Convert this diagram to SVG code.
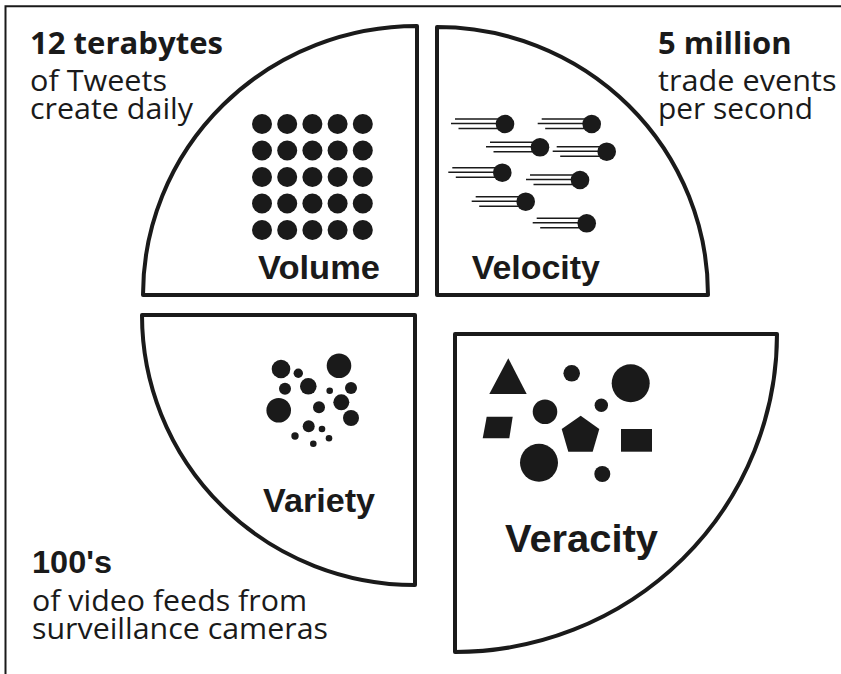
<svg xmlns="http://www.w3.org/2000/svg" xmlns:xlink="http://www.w3.org/1999/xlink" width="841" height="674" viewBox="0 0 841 674">
  <style>
    .frame { fill: none; stroke: #1a1a1a; stroke-width: 2; }
    .quad { fill: #ffffff; stroke: #1a1a1a; stroke-width: 4; stroke-linejoin: round; }
    .ink { fill: #1a1a1a; }
    .streak { stroke: #1a1a1a; stroke-width: 1.4; fill: none; }
    .label { font-family: "Liberation Sans", Arial, sans-serif; font-weight: bold; font-size: 33px; fill: #1a1a1a; }
    .head { font-family: "Open Sans", "Noto Sans", sans-serif; font-weight: bold; font-size: 30px; fill: #1a1a1a; }
    .head-arial { font-family: "Liberation Sans", Arial, sans-serif; font-weight: bold; font-size: 31px; fill: #1a1a1a; }
    .note { font-family: "Open Sans", "Noto Sans", sans-serif; font-size: 29px; fill: #1a1a1a; }
  </style>
  <defs>
    <!-- a ball with three speed streaks trailing to its left -->
    <g id="meteor">
      <path class="streak" d="M-50,-5 H0 M-54,-0.5 H0 M-46.5,4.5 H0"/>
      <circle class="ink" cx="0" cy="0" r="9.3"/>
    </g>
    <circle id="dot" class="ink" cx="0" cy="0" r="10"/>
  </defs>

  <rect width="841" height="674" fill="#ffffff"/>

  <!-- open frame: top and left edges only -->
  <path class="frame" d="M5.5,674 V6.2 H841"/>

  <!-- Volume -->
  <g id="volume">
    <path class="quad" d="M143,295 A274,269 0 0 1 417,26 L417,295 Z"/>
    <g>
      <use xlink:href="#dot" x="262" y="124"/><use xlink:href="#dot" x="287.2" y="124"/><use xlink:href="#dot" x="312.4" y="124"/><use xlink:href="#dot" x="337.6" y="124"/><use xlink:href="#dot" x="362.8" y="124"/>
      <use xlink:href="#dot" x="262" y="150.5"/><use xlink:href="#dot" x="287.2" y="150.5"/><use xlink:href="#dot" x="312.4" y="150.5"/><use xlink:href="#dot" x="337.6" y="150.5"/><use xlink:href="#dot" x="362.8" y="150.5"/>
      <use xlink:href="#dot" x="262" y="177"/><use xlink:href="#dot" x="287.2" y="177"/><use xlink:href="#dot" x="312.4" y="177"/><use xlink:href="#dot" x="337.6" y="177"/><use xlink:href="#dot" x="362.8" y="177"/>
      <use xlink:href="#dot" x="262" y="203.5"/><use xlink:href="#dot" x="287.2" y="203.5"/><use xlink:href="#dot" x="312.4" y="203.5"/><use xlink:href="#dot" x="337.6" y="203.5"/><use xlink:href="#dot" x="362.8" y="203.5"/>
      <use xlink:href="#dot" x="262" y="230"/><use xlink:href="#dot" x="287.2" y="230"/><use xlink:href="#dot" x="312.4" y="230"/><use xlink:href="#dot" x="337.6" y="230"/><use xlink:href="#dot" x="362.8" y="230"/>
    </g>
    <text class="label" x="258" y="279" textLength="122" lengthAdjust="spacingAndGlyphs">Volume</text>
  </g>

  <!-- Velocity -->
  <g id="velocity">
    <path class="quad" d="M437,295 L437,27 A271,268 0 0 1 708,295 Z"/>
    <use xlink:href="#meteor" x="505" y="124"/>
    <use xlink:href="#meteor" x="591.7" y="124"/>
    <use xlink:href="#meteor" x="540" y="147.3"/>
    <use xlink:href="#meteor" x="606.7" y="151.7"/>
    <use xlink:href="#meteor" x="502.3" y="172.7"/>
    <use xlink:href="#meteor" x="580" y="180"/>
    <use xlink:href="#meteor" x="525.7" y="201.7"/>
    <use xlink:href="#meteor" x="586.7" y="223.3"/>
    <text class="label" x="471.7" y="279" textLength="128.3" lengthAdjust="spacingAndGlyphs">Velocity</text>
  </g>

  <!-- Variety -->
  <g id="variety">
    <path class="quad" d="M142,315 L415,315 L415,585 A273,270 0 0 1 142,315 Z"/>
    <g class="ink">
      <circle cx="281" cy="369" r="9.3"/>
      <circle cx="298.3" cy="373.3" r="4.7"/>
      <circle cx="339" cy="365.7" r="12.3"/>
      <circle cx="285" cy="388.7" r="6"/>
      <circle cx="308.3" cy="386.3" r="8.3"/>
      <circle cx="329.7" cy="390.7" r="3.3"/>
      <circle cx="351" cy="388" r="6"/>
      <circle cx="278.7" cy="410.3" r="12.3"/>
      <circle cx="319" cy="407.3" r="6"/>
      <circle cx="341.3" cy="402.3" r="8"/>
      <circle cx="351" cy="418" r="8"/>
      <circle cx="308.7" cy="426.3" r="6"/>
      <circle cx="322" cy="429" r="3.3"/>
      <circle cx="295" cy="436" r="3.7"/>
      <circle cx="329" cy="438.3" r="3.3"/>
      <circle cx="313.3" cy="443.7" r="3.3"/>
    </g>
    <text class="label" x="263" y="511.7" textLength="112" lengthAdjust="spacingAndGlyphs">Variety</text>
  </g>

  <!-- Veracity -->
  <g id="veracity">
    <path class="quad" d="M455,334 L777,334 A322,318 0 0 1 455,652 Z"/>
    <g class="ink">
      <polygon points="508.3,358.3 526.7,394 489.3,394"/>
      <circle cx="571.7" cy="373.3" r="8.3"/>
      <circle cx="630.7" cy="383.3" r="19"/>
      <circle cx="545" cy="411.7" r="12.3"/>
      <circle cx="601.3" cy="405.3" r="6.7"/>
      <polygon points="486.7,416.7 512.7,416.7 509.3,438.3 482.7,438.3"/>
      <polygon points="580.7,415.7 599.3,429 592.7,451.7 568.3,451.7 561.7,429"/>
      <rect x="621" y="429" width="31" height="22.7"/>
      <circle cx="539" cy="462.7" r="19"/>
      <circle cx="602.3" cy="474" r="8"/>
    </g>
    <text class="label" x="505" y="552" style="font-size:39px" textLength="153" lengthAdjust="spacingAndGlyphs">Veracity</text>
  </g>

  <!-- callout figures -->
  <g id="note-volume">
    <text class="head" x="30" y="53.5" textLength="193" lengthAdjust="spacingAndGlyphs">12 terabytes</text>
    <text class="note" x="30" y="91" textLength="137" lengthAdjust="spacingAndGlyphs">of Tweets</text>
    <text class="note" x="30" y="119" textLength="163" lengthAdjust="spacingAndGlyphs">create daily</text>
  </g>
  <g id="note-velocity">
    <text class="head" x="658" y="53.5" textLength="133.5" lengthAdjust="spacingAndGlyphs">5 million</text>
    <text class="note" x="658" y="91" textLength="178.5" lengthAdjust="spacingAndGlyphs">trade events</text>
    <text class="note" x="658" y="119" textLength="155" lengthAdjust="spacingAndGlyphs">per second</text>
  </g>
  <g id="note-variety">
    <text class="head-arial" x="32" y="573.3" textLength="80" lengthAdjust="spacingAndGlyphs">100's</text>
    <text class="note" x="32" y="611" textLength="275" lengthAdjust="spacingAndGlyphs">of video feeds from</text>
    <text class="note" x="32" y="639.3" textLength="296" lengthAdjust="spacingAndGlyphs">surveillance cameras</text>
  </g>
</svg>
